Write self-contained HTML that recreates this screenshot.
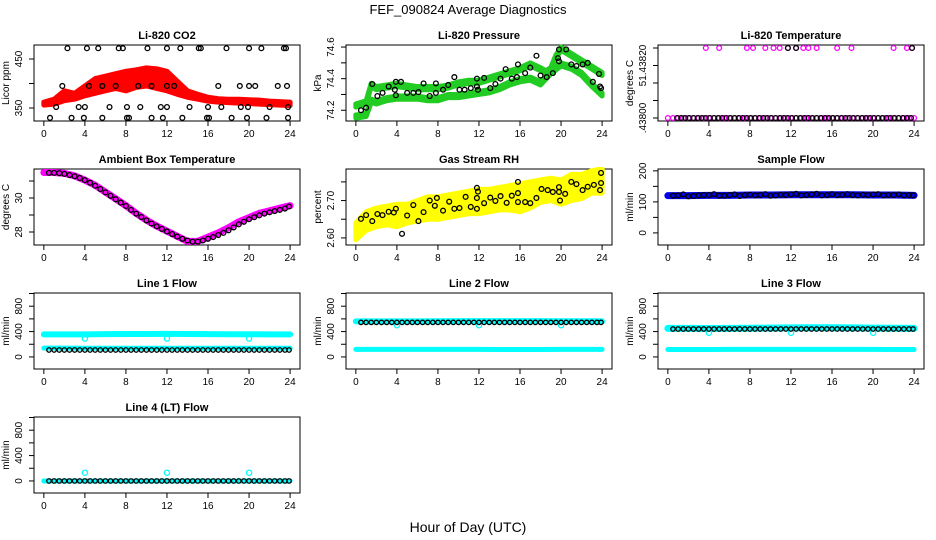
<!DOCTYPE html>
<html><head><meta charset="utf-8"><style>
body{margin:0;background:#fff}
svg{display:block;font-family:"Liberation Sans",sans-serif}
</style></head><body>
<svg id="chart" width="936" height="540" viewBox="0 0 936 540">
<rect width="936" height="540" fill="#fff"/>
<text x="468" y="14" text-anchor="middle" font-size="13">FEF_090824  Average Diagnostics</text>
<text x="468" y="532" text-anchor="middle" font-size="14">Hour of Day (UTC)</text>
</svg>
<script>
// ---- data ----
const xTicks=[0,4,8,12,16,20,24];
// CO2
const co2BandHours=[0,1,2,3,4,5,6,7,8,9,10,11,12,13,14,15,16,17,18,19,20,21,22,23,24];
const co2Lower=[356,358,365,368,375,380,385,390,385,392,395,390,385,378,372,368,364,362,361,360,359,358,357,356,355];
const co2Upper=[362,368,385,380,395,410,415,420,425,428,432,430,425,405,385,378,372,369,368,368,367,366,364,363,362];
const co2PtHours=[2.3,4.2,5.3,7.3,7.7,10.1,12.0,13.3,15.1,15.3,17.8,20.0,21.2,23.4,23.6,1.8,4.4,5.7,7.0,9.2,10.5,12.0,12.7,17.0,19.1,20.0,20.6,22.8,23.7,1.2,3.4,4.0,6.4,8.1,9.4,11.4,12.0,14.2,16.0,17.3,19.2,19.9,22.0,23.8,0.6,2.7,3.9,5.7,8.1,8.3,10.5,11.6,13.5,15.9,16.1,18.3,19.8,21.7,23.8];
const co2PtVals=[472,472,472,472,472,472,472,472,472,472,472,472,472,472,472,395,395,395,395,395,395,395,395,395,395,395,395,395,395,352,352,352,352,352,352,352,352,352,352,352,352,352,352,352,330,330,330,330,330,330,330,330,330,330,330,330,330,330,330];
// Pressure
const presUpHours=[0,0.5,1,1.5,2,3,4,5,6,7,8,9,10,11,12,13,14,15,16,17,18,18.5,19,19.5,20,21,22,23,24];
const presUpper=[74.24,74.25,74.26,74.37,74.35,74.36,74.37,74.36,74.35,74.35,74.35,74.36,74.38,74.39,74.39,74.41,74.43,74.45,74.47,74.5,74.47,74.45,74.47,74.55,74.6,74.56,74.52,74.48,74.44];
const presLoHours=[0,1,1.5,2,3,4,5,6,7,8,9,10,11,12,13,14,15,16,17,18,19,20,21,22,23,24];
const presLower=[74.17,74.18,74.27,74.26,74.28,74.29,74.29,74.29,74.28,74.28,74.3,74.3,74.31,74.32,74.33,74.35,74.38,74.4,74.41,74.38,74.45,74.5,74.48,74.44,74.37,74.31];
const presPtHours=[0.5,1.0,1.6,2.1,2.6,3.2,3.8,3.9,3.9,4.4,5.0,5.6,6.1,6.6,7.2,7.8,7.8,8.5,9.0,9.6,10.1,10.6,11.2,11.8,11.8,11.9,12.5,13.1,13.6,14.1,14.6,15.2,15.7,15.8,16.5,17.0,17.6,18.0,18.6,19.2,19.7,19.8,19.8,20.5,21.0,21.5,22.1,22.6,23.1,23.7,23.8,23.9];
const presPtVals=[74.2,74.216,74.366,74.29,74.31,74.35,74.33,74.38,74.295,74.38,74.31,74.31,74.315,74.37,74.29,74.31,74.37,74.33,74.36,74.41,74.33,74.33,74.34,74.35,74.4,74.33,74.405,74.34,74.366,74.4,74.46,74.4,74.41,74.49,74.435,74.47,74.545,74.42,74.41,74.435,74.53,74.51,74.585,74.585,74.49,74.48,74.49,74.5,74.38,74.43,74.35,74.34];
// Li-820 temperature
const tempMagHours=[0,0.5,1,1.5,2,2.5,3,3.5,4,4.5,5,5.5,6,6.5,7,7.5,8,8.5,9,9.5,10,10.5,11,11.5,12,12.5,13,13.5,14,14.5,15,15.5,16,16.5,17,17.5,18,18.5,19,19.5,20,20.5,21,21.5,22,22.5,23,23.5,24,3.7,5.0,7.7,8.3,9.5,10.3,10.9,11.7,12.5,13.2,13.7,14.5,16.5,17.9,22.0,23.3,23.8];
const tempMagVals=[51.438,51.438,51.438,51.438,51.438,51.438,51.438,51.438,51.438,51.438,51.438,51.438,51.438,51.438,51.438,51.438,51.438,51.438,51.438,51.438,51.438,51.438,51.438,51.438,51.438,51.438,51.438,51.438,51.438,51.438,51.438,51.438,51.438,51.438,51.438,51.438,51.438,51.438,51.438,51.438,51.438,51.438,51.438,51.438,51.438,51.438,51.438,51.438,51.438,51.4382,51.4382,51.4382,51.4382,51.4382,51.4382,51.4382,51.4382,51.4382,51.4382,51.4382,51.4382,51.4382,51.4382,51.4382,51.4382,51.4382];
const tempPtHours=[0.9,1.3,1.7,2.1,2.5,2.9,3.3,3.7,4.1,4.5,4.9,5.3,5.7,6.1,6.5,6.9,7.3,7.7,8.1,8.5,8.9,9.3,9.7,10.1,10.5,10.9,11.3,11.7,12.1,12.5,12.9,13.3,13.7,14.1,14.5,14.9,15.3,15.7,16.1,16.5,16.9,17.3,17.7,18.1,18.5,18.9,19.3,19.7,20.1,20.5,20.9,21.3,21.7,22.1,22.5,22.9,23.3,23.7,11.7,12.5,23.8];
const tempPtVals=[51.438,51.438,51.438,51.438,51.438,51.438,51.438,51.438,51.438,51.438,51.438,51.438,51.438,51.438,51.438,51.438,51.438,51.438,51.438,51.438,51.438,51.438,51.438,51.438,51.438,51.438,51.438,51.438,51.438,51.438,51.438,51.438,51.438,51.438,51.438,51.438,51.438,51.438,51.438,51.438,51.438,51.438,51.438,51.438,51.438,51.438,51.438,51.438,51.438,51.438,51.438,51.438,51.438,51.438,51.438,51.438,51.438,51.438,51.4382,51.4382,51.4382];
// Ambient box temperature
const ambHours=[0,1,2,3,4,5,6,7,8,9,10,11,12,13,14,15,16,17,18,19,20,21,22,23,24];
const ambVals=[31.5,31.5,31.45,31.3,31.05,30.75,30.35,29.95,29.55,29.1,28.7,28.35,28.05,27.75,27.45,27.45,27.7,27.95,28.25,28.6,28.85,29.1,29.25,29.4,29.55];
const ambPtHours=[0.5,1,1.5,2,2.5,3,3.5,4,4.5,5,5.5,6,6.5,7,7.5,8,8.5,9,9.5,10,10.5,11,11.5,12,12.5,13,13.5,14,14.5,15,15.5,16,16.5,17,17.5,18,18.5,19,19.5,20,20.5,21,21.5,22,22.5,23,23.5,23.9];
const ambPtVals=[31.48,31.48,31.46,31.42,31.35,31.28,31.18,31.05,30.9,30.72,30.53,30.33,30.13,29.93,29.73,29.53,29.3,29.08,28.88,28.68,28.5,28.33,28.18,28.03,27.88,27.73,27.6,27.5,27.43,27.43,27.5,27.6,27.7,27.82,27.95,28.1,28.27,28.45,28.6,28.75,28.87,28.98,29.08,29.16,29.23,29.3,29.38,29.5];
// Gas stream RH
const rhHours=[0,1,2,3,4,5,6,7,8,9,10,11,12,13,14,15,16,17,18,19,20,21,22,23,24];
const rhUpper=[2.64,2.67,2.68,2.685,2.69,2.69,2.70,2.71,2.71,2.715,2.72,2.725,2.73,2.73,2.735,2.74,2.745,2.75,2.755,2.76,2.755,2.77,2.77,2.78,2.785];
const rhLower=[2.595,2.62,2.63,2.635,2.63,2.64,2.645,2.65,2.65,2.655,2.66,2.665,2.665,2.67,2.675,2.675,2.67,2.68,2.695,2.70,2.69,2.70,2.705,2.72,2.72];
const rhPtHours=[0.5,1.0,1.6,2.1,2.6,3.2,3.7,3.9,4.5,5.0,5.6,6.1,6.6,7.2,7.7,7.9,8.5,9.1,9.6,10.1,10.7,11.2,11.8,11.8,11.8,11.9,12.5,13.1,13.6,14.1,14.7,15.2,15.8,15.8,15.8,16.5,17.0,17.6,18.1,18.7,19.2,19.8,19.8,19.9,20.4,21.0,21.5,22.1,22.6,23.2,23.8,23.9,23.9];
const rhPtVals=[2.651,2.661,2.645,2.664,2.661,2.670,2.668,2.678,2.611,2.66,2.688,2.645,2.669,2.70,2.686,2.707,2.673,2.697,2.678,2.68,2.71,2.683,2.734,2.707,2.678,2.724,2.693,2.708,2.699,2.712,2.694,2.713,2.75,2.72,2.696,2.696,2.693,2.707,2.731,2.728,2.723,2.736,2.723,2.70,2.718,2.75,2.744,2.728,2.737,2.742,2.728,2.747,2.774];
// Sample flow
const sfHours=[0,2,4,6,8,10,12,14,16,18,20,22,24];
const sfBand=[120,120,121,121,122,122,123,123,123,123,122,122,121];
const sfPtHours=[0.5,1,1.5,2,2.5,3,3.5,4,4.5,5,5.5,6,6.5,7,7.5,8,8.5,9,9.5,10,10.5,11,11.5,12,12.5,13,13.5,14,14.5,15,15.5,16,16.5,17,17.5,18,18.5,19,19.5,20,20.5,21,21.5,22,22.5,23,23.5,23.9];
const sfPtVals=[120,121,124,118,119,121,122,122,125,120,120,122,124,119,122,123,121,122,125,120,121,123,122,124,126,121,122,124,126,121,122,125,122,123,125,122,121,123,122,124,125,121,122,122,124,121,122,121];
// Line flows
const lfHours=[0,2,4,6,8,10,12,14,16,18,20,22,24];
const l1Upper=[355,355,355,360,362,362,363,362,360,358,358,356,355];
const l1Lower=[140,140,138,138,138,138,138,138,138,138,138,138,138];
const l1Black=[110,110,110,110,110,110,110,110,110,110,110,110,110];
const l2Upper=[560,560,560,560,562,565,565,565,565,565,563,562,560];
const l2Lower=[120,120,120,120,120,120,120,118,118,118,120,120,120];
const l2Black=[545,545,545,545,545,545,545,545,545,545,545,545,545];
const l3Upper=[450,450,448,450,452,455,458,460,460,458,455,452,450];
const l3Lower=[118,118,118,120,120,120,120,120,120,120,120,118,118];
const l3Black=[440,440,435,438,440,440,440,440,440,442,440,440,440];
const l4Cyan=[0,0,0,0,0,0,0,0,0,0,0,0,0];
const l4Black=[0,0,0,0,0,0,0,0,0,0,0,0,0];
const dipHours=[4,12,20];
const l1Dips=[290,290,290];
const l2Dips=[500,500,500];
const l3Dips=[380,380,380];
const l4Spikes=[130,130,130];

// ---- rendering ----
const NS="http://www.w3.org/2000/svg";
const svg=document.getElementById('chart');
function mk(tag,attrs,parent){const e=document.createElementNS(NS,tag);for(const k in attrs)e.setAttribute(k,attrs[k]);(parent||svg).appendChild(e);return e;}

function panel(col,row,title,ylab,ymin,ymax,ticks,labels){
  const L=34+312*col,T=45+124*row,W=266,H=76;
  const g=mk('g',{});
  
  
  const x=h=>L+9.85+h*10.26;
  const y=v=>T+H*(ymax-v)/(ymax-ymin);
  const t=mk('text',{x:L+W/2,y:T-6,'text-anchor':'middle','font-size':11,'font-weight':'bold'},g);
  t.textContent=title;
  
  
  const box=mk('rect',{x:L,y:T,width:W,height:H,fill:'none',stroke:'#000','stroke-width':1},g);
  
  
  const xa=mk('g',{},g);
  
  
  xTicks.forEach(v=>{
    mk('line',{x1:x(v),x2:x(v),y1:T+H,y2:T+H+5,stroke:'#000'},xa);
    const tl=mk('text',{x:x(v),y:T+H+16,'text-anchor':'middle','font-size':10},xa);
    tl.textContent=v;
    
    
  });
  const ya=mk('g',{},g);
  
  
  ticks.forEach((v,i)=>{
    mk('line',{x1:L,x2:L-5,y1:y(v),y2:y(v),stroke:'#000'},ya);
    if(labels[i]){
      const tl=mk('text',{x:0,y:0,'text-anchor':'middle','font-size':10,transform:`translate(${L-12},${y(v)}) rotate(-90)`},ya);
      tl.textContent=labels[i];
      
      
    }
  });
  const yl=mk('text',{x:0,y:0,'text-anchor':'middle','font-size':10,transform:`translate(${L-25},${T+H/2}) rotate(-90)`},g);
  yl.textContent=ylab;
  
  
  const clip='c'+col+row;
  const cp=mk('clipPath',{id:clip},g);mk('rect',{x:L,y:T-2,width:W,height:H+4},cp);
  const plot=mk('g',{'clip-path':`url(#${clip})`},g);
  return {g:plot,x,y};
}
function band(p,hoursLo,lo,hoursUp,up,color,name){
  const pts=hoursUp.map((h,i)=>p.x(h)+','+p.y(up[i])).concat(hoursLo.slice().reverse().map((h,i)=>p.x(h)+','+p.y(lo[lo.length-1-i])));
  const e=mk('polygon',{points:pts.join(' '),fill:color,stroke:color,'stroke-width':5,'stroke-linejoin':'round'},p.g);
  
  
}
function thick(p,hours,vals,color,w,name){
  const e=mk('polyline',{points:hours.map((h,i)=>p.x(h)+','+p.y(vals[i])).join(' '),fill:'none',stroke:color,'stroke-width':w,'stroke-linecap':'round','stroke-linejoin':'round'},p.g);
  
  
}
function pts(p,hours,vals,color,name,r){
  hours.forEach((h,i)=>{
    const c=mk('circle',{cx:p.x(h),cy:p.y(vals[i]),r:r||2.4,fill:'none',stroke:color,'stroke-width':1.3},p.g);
    
    
  });
}

let p;
p=panel(0,0,'Li-820 CO2','Licor ppm',323.5,478.6,[350,400,450],['350','','450']);
band(p,co2BandHours,co2Lower,co2BandHours,co2Upper,'#ff0000','co2-band');
pts(p,co2PtHours,co2PtVals,'#000','co2-point');
p=panel(1,0,'Li-820 Pressure','kPa',74.132,74.613,[74.2,74.3,74.4,74.5,74.6],['74.2','','74.4','','74.6']);
band(p,presUpHours,presUpper.map(v=>v-0.02),presUpHours,presUpper,'#22cc22','pressure-band-upper');
band(p,presLoHours,presLower.map(v=>v-0.02),presLoHours,presLower,'#22cc22','pressure-band-lower');
pts(p,presPtHours,presPtVals,'#000','pressure-point');
p=panel(2,0,'Li-820 Temperature','degrees C',51.4379914,51.4382086,[51.438,51.43805,51.4381,51.43815,51.4382],['.43800','','','51.43820','']);
pts(p,tempMagHours,tempMagVals,'#ff00ff','li820-temp-magenta');
pts(p,tempPtHours,tempPtVals,'#000','li820-temp-point');
p=panel(0,1,'Ambient Box Temperature','degrees C',27.235,31.706,[28,29,30,31],['28','','30','']);
thick(p,ambHours,ambVals,'#ff00ff',7,'ambient-temp-line');
pts(p,ambPtHours,ambPtVals,'#000','ambient-temp-point');
p=panel(1,1,'Gas Stream RH','percent',2.581,2.7845,[2.60,2.65,2.70,2.75],['2.60','','2.70','']);
band(p,rhHours,rhLower,rhHours,rhUpper,'#ffff00','rh-band');
pts(p,rhPtHours,rhPtVals,'#000','rh-point');
p=panel(2,1,'Sample Flow','ml/min',-39,206,[0,50,100,150,200],['0','','100','','200']);
thick(p,sfHours,sfBand,'#0000ee',7,'sample-flow-band');
pts(p,sfPtHours,sfPtVals,'#000','sample-flow-point');
const fT=[0,200,400,600,800,1000],fL=['0','','400','','800',''];
p=panel(0,2,'Line 1 Flow','ml/min',-190,1008,fT,fL);
thick(p,lfHours,l1Upper,'#00ffff',6,'line1-cyan-upper');
thick(p,lfHours,l1Lower,'#00ffff',5,'line1-cyan-lower');
pts(p,dipHours,l1Dips,'#00ffff','line1-dip',2.6);
pts(p,sfPtHours,sfPtHours.map(()=>l1Black[0]),'#000','line1-point',2.2);
p=panel(1,2,'Line 2 Flow','ml/min',-190,1008,fT,fL);
thick(p,lfHours,l2Upper,'#00ffff',6,'line2-cyan-upper');
thick(p,lfHours,l2Lower,'#00ffff',5,'line2-cyan-lower');
pts(p,dipHours,l2Dips,'#00ffff','line2-dip',2.6);
pts(p,sfPtHours,sfPtHours.map(()=>l2Black[0]),'#000','line2-point',2.2);
p=panel(2,2,'Line 3 Flow','ml/min',-190,1008,fT,fL);
thick(p,lfHours,l3Upper,'#00ffff',7,'line3-cyan-upper');
thick(p,lfHours,l3Lower,'#00ffff',5,'line3-cyan-lower');
pts(p,dipHours,l3Dips,'#00ffff','line3-dip',2.6);
pts(p,sfPtHours,sfPtHours.map(()=>l3Black[0]),'#000','line3-point',2.2);
p=panel(0,3,'Line 4 (LT) Flow','ml/min',-190,1008,fT,fL);
thick(p,lfHours,l4Cyan,'#00ffff',5,'line4-cyan');
pts(p,dipHours,l4Spikes,'#00ffff','line4-spike',2.6);
pts(p,sfPtHours,sfPtHours.map(()=>l4Black[0]),'#000','line4-point',2.2);
</script>
</body></html>
